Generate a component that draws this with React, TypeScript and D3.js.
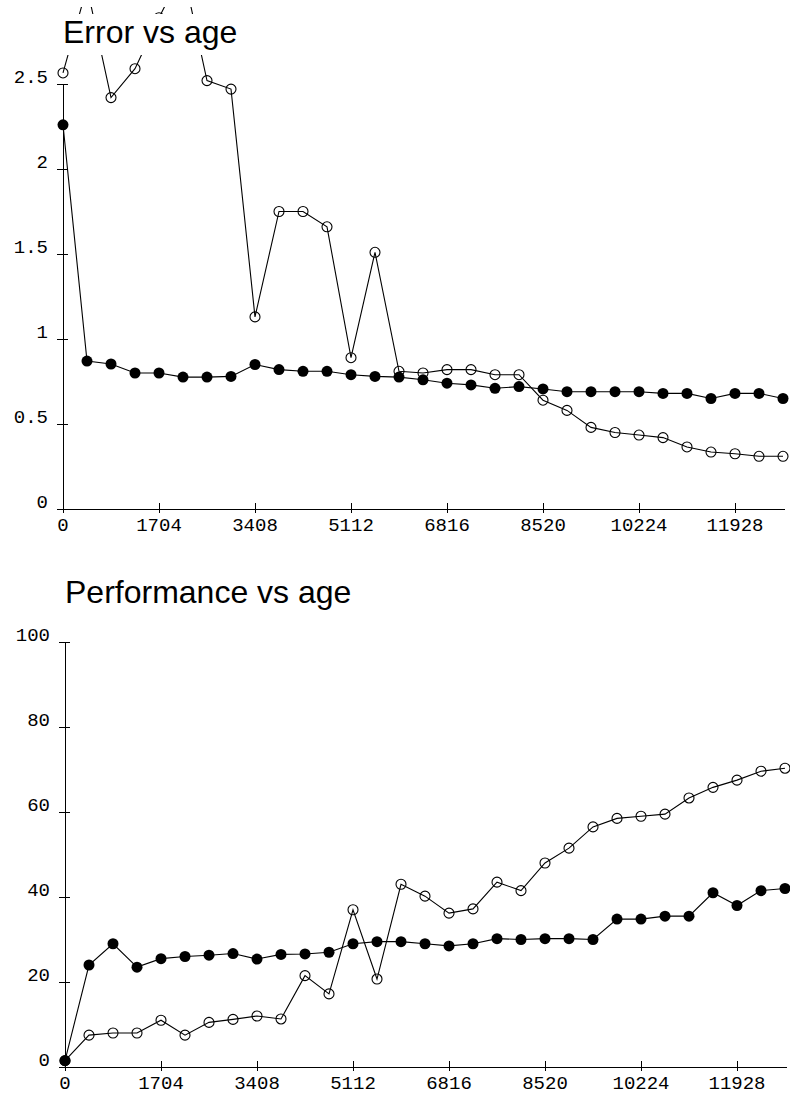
import React from 'react';
import * as d3 from 'd3';

// sample ages shared by both charts
const ages = [0, 426, 852, 1278, 1704, 2130, 2556, 2982, 3408, 3834, 4260, 4686, 5112, 5538, 5964, 6390,
  6816, 7242, 7668, 8094, 8520, 8946, 9372, 9798, 10224, 10650, 11076, 11502, 11928, 12354, 12780];
const xTicks = [0, 1704, 3408, 5112, 6816, 8520, 10224, 11928];

const errorTicks = [0, 0.5, 1, 1.5, 2, 2.5];
const errorFilled = [2.26, 0.87, 0.853, 0.8, 0.8, 0.776, 0.776, 0.78, 0.85, 0.82, 0.81, 0.81, 0.79, 0.78, 0.776,
  0.76, 0.74, 0.73, 0.71, 0.72, 0.706, 0.69, 0.69, 0.69, 0.69, 0.68, 0.68, 0.65, 0.68, 0.68, 0.65];
const errorHollow = [2.565, 3.07, 2.42, 2.59, 2.89, 3.17, 2.52, 2.47, 1.13, 1.75, 1.75, 1.66, 0.89, 1.51, 0.81,
  0.8, 0.82, 0.82, 0.79, 0.79, 0.64, 0.58, 0.48, 0.45, 0.435, 0.42, 0.365, 0.335, 0.325, 0.31, 0.31];

const perfTicks = [0, 20, 40, 60, 80, 100];
const perfFilled = [1.5, 24, 29, 23.5, 25.5, 26, 26.3, 26.7, 25.4, 26.5, 26.6, 27, 29, 29.5, 29.5, 29, 28.5,
  29, 30.2, 30, 30.2, 30.2, 30, 34.8, 34.8, 35.5, 35.5, 41, 38, 41.5, 42];
const perfHollow = [1.5, 7.5, 8, 8, 11, 7.5, 10.5, 11.2, 12, 11.3, 21.5, 17.2, 37, 20.7, 43, 40.2, 36.2, 37.2,
  43.5, 41.5, 48, 51.5, 56.5, 58.5, 59, 59.5, 63.3, 65.8, 67.5, 69.6, 70.3];

const tickFont = '"Liberation Mono", monospace';
const titleFont = '"Liberation Sans", Arial, sans-serif';

function Panel({title, titleY, x0, yTop, yBottom, yMax, yTicks, filled, hollow, maskTitle}) {
  const x = d3.scaleLinear().domain([0, 12780]).range([x0, x0 + 720]);
  const y = d3.scaleLinear().domain([0, yMax]).range([yBottom, yTop]);
  const line = d3.line().x((d) => x(d[0])).y((d) => y(d[1]));
  const hollowPts = ages.map((a, i) => [a, hollow[i]]);
  const filledPts = ages.map((a, i) => [a, filled[i]]);

  return (
    <g>
      <path d={line(hollowPts)} fill="none" stroke="#000" strokeWidth={1.1}/>
      {hollowPts.map((p, i) => (
        <circle key={'h' + i} cx={x(p[0])} cy={y(p[1])} r={5} fill="none" stroke="#000" strokeWidth={1.1}/>
      ))}
      <path d={line(filledPts)} fill="none" stroke="#000" strokeWidth={1.1}/>
      {filledPts.map((p, i) => (
        <circle key={'f' + i} cx={x(p[0])} cy={y(p[1])} r={5.5} fill="#000"/>
      ))}

      {maskTitle && <rect x={40} y={titleY - 29} width={230} height={41} fill="#fff"/>}
      {maskTitle && <rect x={0} y={0} width={790} height={7} fill="#fff"/>}
      <text x={x0} y={titleY} fontFamily={titleFont} fontSize={32} fill="#000">{title}</text>

      <g shapeRendering="crispEdges" stroke="#000" strokeWidth={1}>
        <line x1={x0} x2={x0} y1={y(yMax)} y2={yBottom + 4}/>
        <line x1={x0 - 6} x2={x0 + 722} y1={yBottom} y2={yBottom}/>
        {yTicks.map((t) => (
          <line key={t} x1={x0 - 6} x2={x0 + 5} y1={y(t)} y2={y(t)}/>
        ))}
        {xTicks.map((t) => (
          <line key={t} x1={x(t)} x2={x(t)} y1={yBottom - 6} y2={yBottom + 4}/>
        ))}
      </g>
      {yTicks.map((t) => (
        <text key={t} x={x0 - 15} y={y(t) - 1.5} textAnchor="end" fontFamily={tickFont} fontSize={19} fill="#000">
          {t}
        </text>
      ))}
      {xTicks.map((t) => (
        <text key={t} x={x(t)} y={yBottom + 22} textAnchor="middle" fontFamily={tickFont} fontSize={19} fill="#000">
          {t}
        </text>
      ))}
    </g>
  );
}

export default function App() {
  return (
    <svg width={790} height={1095} style={{position: 'absolute', left: 0, top: 0, background: '#fff'}}>
      <rect width={790} height={1095} fill="#fff"/>
      <Panel title="Error vs age" titleY={43} x0={63} yTop={84} yBottom={509} yMax={2.5}
        yTicks={errorTicks} filled={errorFilled} hollow={errorHollow} maskTitle/>
      <Panel title="Performance vs age" titleY={603} x0={65} yTop={642} yBottom={1067} yMax={100}
        yTicks={perfTicks} filled={perfFilled} hollow={perfHollow} maskTitle={false}/>
    </svg>
  );
}
